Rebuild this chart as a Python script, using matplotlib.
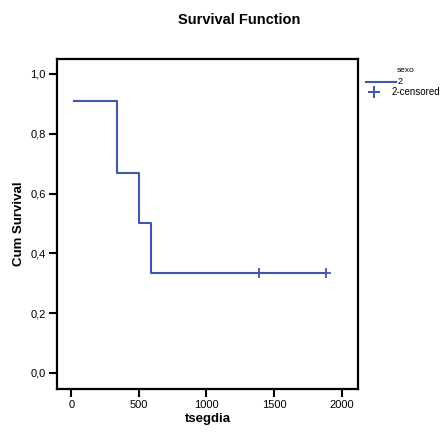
import matplotlib.pyplot as plt
from matplotlib.lines import Line2D

plt.rcParams['font.family'] = ['Liberation Sans', 'DejaVu Sans']

# Kaplan-Meier steps
times = [22, 336, 336, 503, 503, 592, 592, 1882]
surv = [0.909, 0.909, 0.667, 0.667, 0.5, 0.5, 0.333, 0.333]
cens_t = [1391, 1882]
cens_s = [0.333, 0.333]
xticks = [0, 500, 1000, 1500, 2000]
yticks = [0.0, 0.2, 0.4, 0.6, 0.8, 1.0]
ylabels = ['0,0', '0,2', '0,4', '0,6', '0,8', '1,0']

col = '#3f58ac'

fig = plt.figure(figsize=(4.46, 4.33), dpi=100)
ax = fig.add_axes([57/446, 1 - 389/433, (358-57)/446, (389-59)/433])

ax.plot(times, surv, color=col, lw=1.5)
ax.plot(cens_t, cens_s, ls='none', marker='+', ms=7, mew=1.3, color=col)

ax.set_xlim(-106, 2121)
ax.set_ylim(-0.054, 1.05)
ax.set_xticks(xticks)
ax.set_yticks(yticks)
ax.set_yticklabels(ylabels)
ax.tick_params(direction='out', length=6, width=1.5, labelsize=8, pad=2)
for s in ax.spines.values():
    s.set_linewidth(1.6)

ax.set_xlabel('tsegdia', fontsize=9.5, fontweight='bold', labelpad=2)
ax.set_ylabel('Cum Survival', fontsize=9.5, fontweight='bold', labelpad=4)
fig.text(239/446, 1 - 20/433, 'Survival Function', ha='center', va='center',
         fontsize=10.5, fontweight='bold')

# legend drawn by hand to the right of the frame
fig.text(406/446, 1 - 70/433, 'sexo', ha='center', va='center', fontsize=6)
fig.add_artist(Line2D([366/446, 396/446], [1 - 82/433, 1 - 82/433], color=col, lw=1.5))
fig.text(398/446, 1 - 82/433, '2', ha='left', va='center', fontsize=6.5)
fig.add_artist(Line2D([374/446], [1 - 92/433], marker='+', ms=8, mew=1.4, color=col))
fig.text(392/446, 1 - 92/433, '2-censored', ha='left', va='center', fontsize=7)

fig.savefig('out.png', dpi=100)
